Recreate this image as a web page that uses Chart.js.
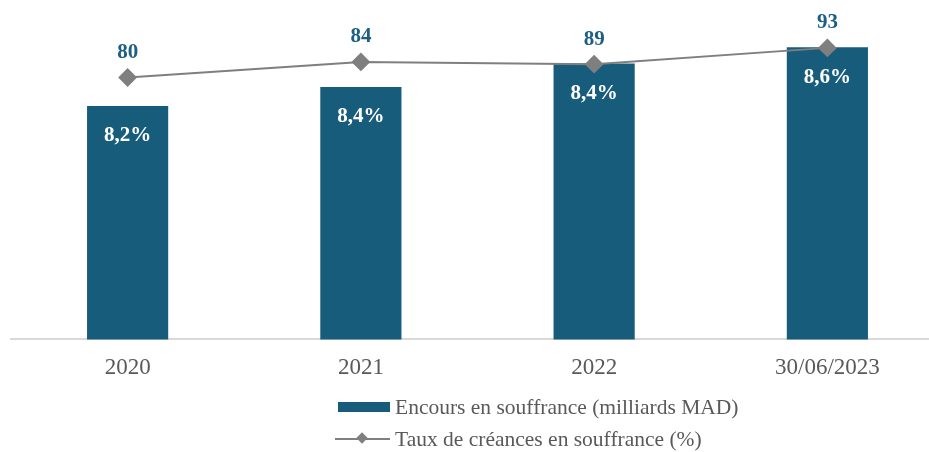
<!DOCTYPE html>
<html>
<head>
<meta charset="utf-8">
<script src="https://cdn.jsdelivr.net/npm/chart.js@4"></script>
<style>
  body { margin: 0; overflow: hidden; background: #fff; font-family: "Liberation Serif", serif; }
  #wrap { position: relative; width: 960px; height: 452px; }
  .legend-row { position: absolute; left: 335px; height: 24px; display: flex; align-items: center; color: #595959; font-size: 21.5px; white-space: nowrap; }
  .swatch-bar { width: 52px; height: 10px; background: #185c7c; margin-left: 3px; margin-right: 5px; }
  .swatch-line { position: relative; width: 55px; height: 2px; background: #7f7f7f; margin-right: 5px; }
  .swatch-line::after { content: ""; position: absolute; left: 23px; top: -4px; width: 8px; height: 8px; background: #7f7f7f; transform: rotate(45deg); }
</style>
</head>
<body>
<div id="wrap">
  <canvas id="chart"></canvas>
  <div class="legend-row" style="top:395px"><span class="swatch-bar"></span>Encours en souffrance (milliards MAD)</div>
  <div class="legend-row" style="top:427px"><span class="swatch-line"></span>Taux de créances en souffrance (%)</div>
</div>
<script>
const categories = ["2020", "2021", "2022", "30/06/2023"];
const encours = [80, 84.2, 89.4, 93];
const taux = [8.2, 8.41, 8.38, 8.6];

const barColor = "#185c7c";
const lineColor = "#7f7f7f";

// value labels: amounts above the line points, rates inside the bars
const labelPlugin = {
  id: "labels",
  afterDatasetsDraw(chart) {
    const ctx = chart.ctx;
    const bars = chart.getDatasetMeta(0).data;
    const points = chart.getDatasetMeta(1).data;
    ctx.save();
    ctx.textAlign = "center";
    ctx.textBaseline = "middle";
    ctx.font = "bold 21px 'Liberation Serif'";
    bars.forEach((bar, i) => {
      const pt = points[i];
      ctx.fillStyle = "#1d5f84";
      ctx.fillText(Math.round(encours[i]), pt.x, pt.y - 25);
      ctx.fillStyle = "#ffffff";
      ctx.fillText(taux[i].toFixed(1).replace(".", ",") + "%", bar.x, bar.y + 30);
    });
    ctx.restore();
  },
};

new Chart(document.getElementById("chart"), {
  data: {
    labels: categories,
    datasets: [
      {
        type: "bar",
        label: "Encours en souffrance (milliards MAD)",
        data: encours,
        backgroundColor: barColor,
        categoryPercentage: 1,
        barPercentage: 0.348,
        yAxisID: "y",
        order: 2,
      },
      {
        type: "line",
        label: "Taux de créances en souffrance (%)",
        data: taux,
        borderColor: lineColor,
        borderWidth: 2,
        pointStyle: "rectRot",
        pointRadius: 8,
        pointBackgroundColor: lineColor,
        pointBorderColor: lineColor,
        yAxisID: "y1",
        order: 1,
      },
    ],
  },
  options: {
    responsive: true,
    maintainAspectRatio: false,
    animation: false,
    layout: { padding: { left: 11, right: 16, top: 0, bottom: 55 } },
    plugins: { legend: { display: false }, tooltip: { enabled: false } },
    scales: {
      x: {
        grid: { display: false, drawTicks: false },
        border: { display: true, color: "#d9d9d9", width: 2 },
        ticks: { color: "#595959", padding: 15, font: { family: "Liberation Serif", size: 23 } },
      },
      y: { display: false, min: 28.5, max: 101.2 },
      y1: { display: false, min: 4.667, max: 9.111 },
    },
  },
  plugins: [labelPlugin],
});
</script>
</body>
</html>
